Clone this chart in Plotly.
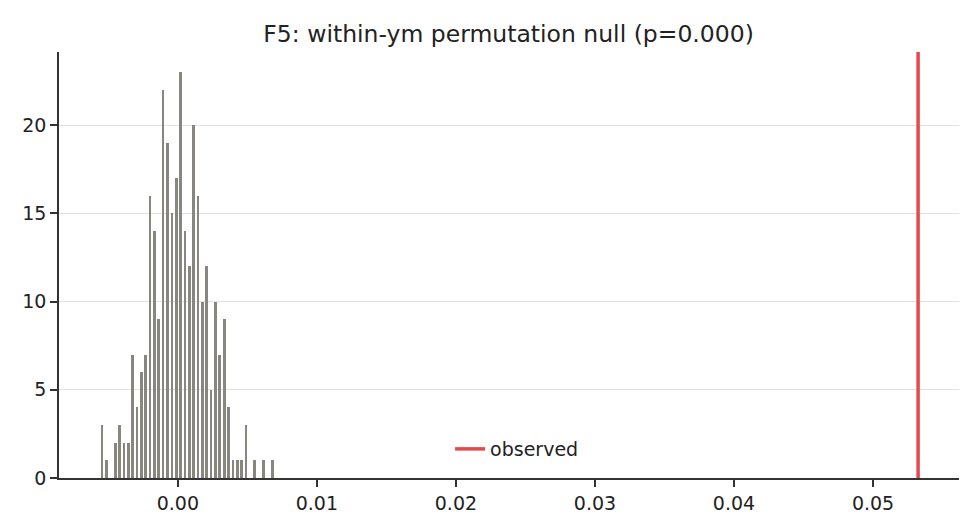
import numpy as np
import plotly.graph_objects as go

# permutation null: 300 shuffles, histogram with 40 bins
null_min = -0.005603
null_max = 0.006941
n_bins = 40
counts = [3, 1, 0, 2, 3, 2, 2, 7, 4, 6,
          7, 16, 14, 9, 22, 19, 15, 17, 23, 14,
          12, 20, 16, 10, 12, 5, 10, 7, 9, 4,
          1, 1, 1, 3, 0, 1, 0, 1, 0, 1]
observed = 0.05324
p_value = 0.000

edges = np.linspace(null_min, null_max, n_bins + 1)
centers = (edges[:-1] + edges[1:]) / 2
bin_w = edges[1] - edges[0]

# matplotlib-like auto limits (5% margin)
span = observed - null_min
x_range = [null_min - 0.05 * span, observed + 0.05 * span]
y_range = [0, max(counts) * 1.05]

fig = go.Figure()
fig.add_trace(
    go.Bar(
        x=centers,
        y=counts,
        width=bin_w * 0.62,
        marker=dict(color="#87877f", line=dict(width=0)),
        showlegend=False,
        hoverinfo="x+y",
    )
)
fig.add_shape(
    type="line",
    xref="x",
    yref="y domain",
    x0=observed,
    x1=observed,
    y0=0,
    y1=1,
    line=dict(color="#e5484d", width=3.5),
    name="observed",
    showlegend=True,
)

axis_col = "#333333"
fig.update_layout(
    width=980,
    height=532,
    margin=dict(l=59, r=21, t=52, b=54),
    paper_bgcolor="white",
    plot_bgcolor="white",
    font=dict(family="DejaVu Sans", size=19, color="#222222"),
    title=dict(
        text="F5: within-ym permutation null (p=%.3f)" % p_value,
        x=0.519,
        xanchor="center",
        y=1 - 34 / 532,
        yanchor="middle",
        font=dict(size=23.5, color="#222222"),
    ),
    legend=dict(
        x=0.509,
        xanchor="center",
        y=0.068,
        yanchor="middle",
        bgcolor="rgba(0,0,0,0)",
        font=dict(size=19),
    ),
    bargap=0,
)
fig.update_xaxes(
    range=x_range,
    tickvals=[0.0, 0.01, 0.02, 0.03, 0.04, 0.05],
    tickformat=".2f",
    showgrid=False,
    zeroline=False,
    showline=True,
    linecolor=axis_col,
    linewidth=1.6,
    ticks="outside",
    ticklen=7,
    tickwidth=1.5,
    tickcolor=axis_col,
)
fig.update_yaxes(
    range=y_range,
    tickvals=[0, 5, 10, 15, 20],
    showgrid=True,
    gridcolor="#e3e3e0",
    gridwidth=1,
    zeroline=False,
    showline=True,
    linecolor=axis_col,
    linewidth=1.6,
    ticks="outside",
    ticklen=7,
    tickwidth=1.5,
    tickcolor=axis_col,
)

fig.write_html(
    "out.html",
    config={"displayModeBar": False},
    post_script="document.body.style.margin='0';",
)
